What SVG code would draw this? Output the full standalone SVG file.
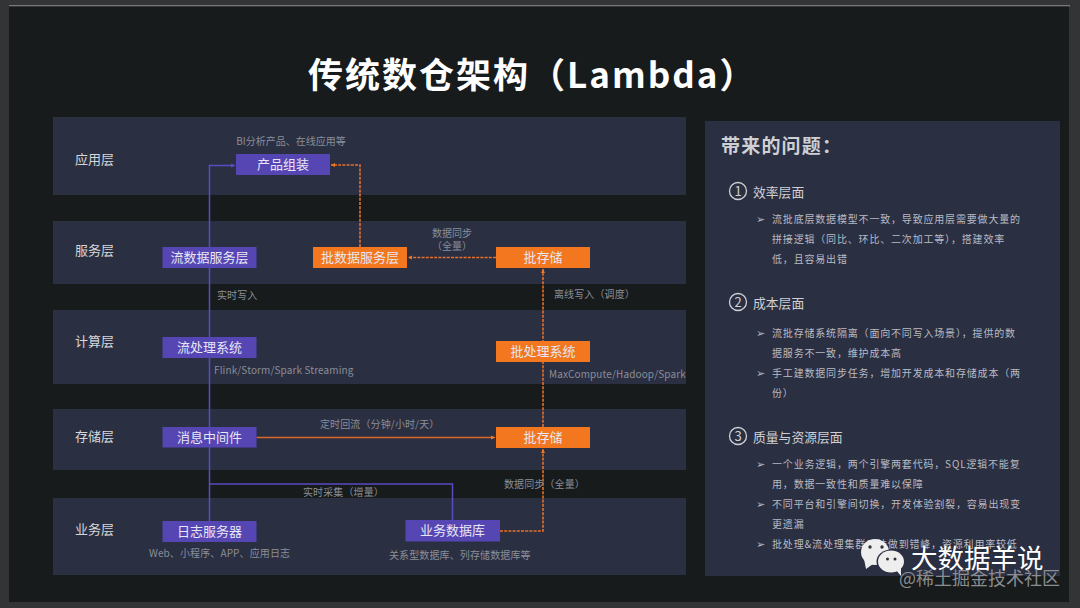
<svg xmlns="http://www.w3.org/2000/svg" width="1080" height="608" viewBox="0 0 1080 608">
<style>
text{font-family:"Noto Sans CJK SC","Noto Sans",sans-serif}
.band{fill:#2a2f42}
.layer{fill:#d6d7da;font-size:13px}
.box{stroke:none}
.p{fill:#5546b4}
.o{fill:#f2771f}
.bt{fill:#e8e6f2;font-size:13px;text-anchor:middle}
.cap{fill:#8b8e98;font-size:10px;letter-spacing:.12px}
.capm{fill:#8b8e98;font-size:10px;text-anchor:middle}
.h{fill:#cfd0d4;font-size:12.800px}
.b{fill:#b9bbc2;font-size:10px;letter-spacing:.82px}
.num{fill:none;stroke:#cfd0d4;stroke-width:1.300}
.numt{fill:#cfd0d4;font-size:13px;text-anchor:middle}
.ar{fill:#b9bbc2;font-size:11px}
.lp{fill:none;stroke:#5a4bc0;stroke-width:1.500}
.ls{fill:none;stroke:#d9682a;stroke-width:1.500}
.ld{fill:none;stroke:#e8702a;stroke-width:1.600;stroke-dasharray:3 1.200}
.wb{fill:#eeeeee}
.we{fill:#333}
</style>
<defs>
<marker id="ap" markerWidth="6" markerHeight="6" refX="4" refY="2.500" orient="auto" markerUnits="userSpaceOnUse"><path d="M0 0.500L4 2.500L0 4.500Z" fill="#5a4bc0"/></marker>
<marker id="ao" markerWidth="6" markerHeight="6" refX="4" refY="2.500" orient="auto" markerUnits="userSpaceOnUse"><path d="M0 0.500L4 2.500L0 4.500Z" fill="#f2771f"/></marker>
</defs>
<rect width="1080" height="608" fill="#333435"/>
<rect x="9" y="5" width="1061" height="1.500" fill="#77787a"/>
<rect x="9" y="6.500" width="1060" height="595.500" fill="#171b1c"/>
<text x="308" y="88" fill="#fff" font-size="35" font-weight="700" letter-spacing="2">传统数仓架构（Lambda）</text>

<g id="bands">
<rect class="band" x="53" y="117" width="633" height="78"/>
<rect class="band" x="53" y="221" width="633" height="63"/>
<rect class="band" x="53" y="310" width="633" height="74"/>
<rect class="band" x="53" y="409" width="633" height="61"/>
<rect class="band" x="53" y="498" width="633" height="77"/>
<rect class="band" x="705" y="121" width="355" height="455"/>
<text class="layer" x="75" y="164">应用层</text>
<text class="layer" x="75" y="255">服务层</text>
<text class="layer" x="75" y="346">计算层</text>
<text class="layer" x="75" y="441">存储层</text>
<text class="layer" x="75" y="534">业务层</text>
</g>

<g id="connectors">
<path class="lp" d="M209.500 521V165.500H235" marker-end="url(#ap)"/>
<path class="lp" d="M209.500 484H452.500V520"/>
<path class="ls" d="M256.500 437.500H495" marker-end="url(#ao)"/>
<path class="ld" d="M496 257.500H408" marker-end="url(#ao)"/>
<path class="ld" d="M360 247V165H331" marker-end="url(#ao)"/>
<path class="ld" d="M543 427V269" marker-end="url(#ao)"/>
<path class="ld" d="M500 531H543V449" marker-end="url(#ao)"/>
</g>

<g id="node-product"><rect class="box p" x="236" y="154" width="94" height="21"/><text class="bt" x="283" y="169">产品组装</text></g>
<g id="node-stream-service"><rect class="box p" x="162.500" y="247" width="94" height="21"/><text class="bt" x="209.500" y="262">流数据服务层</text></g>
<g id="node-batch-service"><rect class="box o" x="313" y="247" width="94" height="21"/><text class="bt" x="360" y="262">批数据服务层</text></g>
<g id="node-batch-store-top"><rect class="box o" x="496" y="247" width="94" height="21"/><text class="bt" x="543" y="262">批存储</text></g>
<g id="node-stream-proc"><rect class="box p" x="162.500" y="337" width="94" height="21"/><text class="bt" x="209.500" y="352">流处理系统</text></g>
<g id="node-batch-proc"><rect class="box o" x="496" y="341" width="94" height="21"/><text class="bt" x="543" y="356">批处理系统</text></g>
<g id="node-mq"><rect class="box p" x="162.500" y="427" width="94" height="20.500"/><text class="bt" x="209.500" y="441.500">消息中间件</text></g>
<g id="node-batch-store"><rect class="box o" x="496" y="427" width="94" height="21"/><text class="bt" x="543" y="442">批存储</text></g>
<g id="node-log"><rect class="box p" x="162.500" y="521" width="94" height="21"/><text class="bt" x="209.500" y="536">日志服务器</text></g>
<g id="node-db"><rect class="box p" x="405.500" y="520" width="94.500" height="21.500"/><text class="bt" x="452.500" y="535">业务数据库</text></g>

<g id="labels">
<text class="capm" x="291" y="145">BI分析产品、在线应用等</text>
<text class="capm" x="452" y="237">数据同步</text>
<text class="capm" x="452" y="250">（全量）</text>
<text class="cap" x="217" y="299">实时写入</text>
<text class="cap" x="554" y="298">离线写入（调度）</text>
<text class="cap" x="214" y="374">Flink/Storm/Spark Streaming</text>
<text class="cap" x="549" y="378">MaxCompute/Hadoop/Spark</text>
<text class="cap" x="320" y="428">定时回流（分钟/小时/天）</text>
<text class="cap" x="303" y="496">实时采集（增量）</text>
<text class="cap" x="504" y="488">数据同步（全量）</text>
<text class="cap" x="149" y="557">Web、小程序、APP、应用日志</text>
<text class="cap" x="389" y="559">关系型数据库、列存储数据库等</text>
</g>

<g id="issues">
<text x="721" y="153" fill="#cfd0d4" font-size="19" font-weight="700" letter-spacing="1.200">带来的问题：</text>
<circle class="num" cx="738" cy="191" r="8.500"/><text class="numt" x="738" y="195.500">1</text>
<text class="h" x="753" y="197">效率层面</text>
<text class="ar" x="756" y="223">➢</text>
<text class="b" x="772" y="223">流批底层数据模型不一致，导致应用层需要做大量的</text>
<text class="b" x="772" y="243">拼接逻辑（同比、环比、二次加工等），搭建效率</text>
<text class="b" x="772" y="263">低，且容易出错</text>
<circle class="num" cx="738" cy="302" r="8.500"/><text class="numt" x="738" y="306.500">2</text>
<text class="h" x="753" y="308">成本层面</text>
<text class="ar" x="756" y="337">➢</text>
<text class="b" x="772" y="337">流批存储系统隔离（面向不同写入场景），提供的数</text>
<text class="b" x="772" y="357">据服务不一致，维护成本高</text>
<text class="ar" x="756" y="377">➢</text>
<text class="b" x="772" y="377">手工建数据同步任务，增加开发成本和存储成本（两</text>
<text class="b" x="772" y="397">份）</text>
<circle class="num" cx="738" cy="436" r="8.500"/><text class="numt" x="738" y="440.500">3</text>
<text class="h" x="753" y="442">质量与资源层面</text>
<text class="ar" x="756" y="468">➢</text>
<text class="b" x="772" y="468">一个业务逻辑，两个引擎两套代码，SQL逻辑不能复</text>
<text class="b" x="772" y="488">用，数据一致性和质量难以保障</text>
<text class="ar" x="756" y="508">➢</text>
<text class="b" x="772" y="508">不同平台和引擎间切换，开发体验割裂，容易出现变</text>
<text class="b" x="772" y="528">更遗漏</text>
<text class="ar" x="756" y="548">➢</text>
<text class="b" x="772" y="548">批处理&amp;流处理集群无法做到错峰，资源利用率较低</text>
</g>

<g id="watermark">
<ellipse class="wb" cx="875" cy="552" rx="14" ry="13"/>
<path class="wb" d="M864 559L866 569L873 564Z"/>
<ellipse cx="891" cy="561.500" rx="14.500" ry="12" fill="#2a2f42"/>
<ellipse class="wb" cx="891" cy="561.500" rx="13" ry="11"/>
<path class="wb" d="M896 570L901 576L901 566Z"/>
<circle class="we" cx="870" cy="547" r="1.700"/><circle class="we" cx="882" cy="547" r="1.700"/>
<circle class="we" cx="887.500" cy="559" r="1.500"/><circle class="we" cx="895" cy="559" r="1.500"/>
<text x="911" y="568" fill="#fff" font-size="26.500">大数据羊说</text>
<text x="899" y="585" fill="#8b8d90" font-size="18">@稀土掘金技术社区</text>
</g>
</svg>
